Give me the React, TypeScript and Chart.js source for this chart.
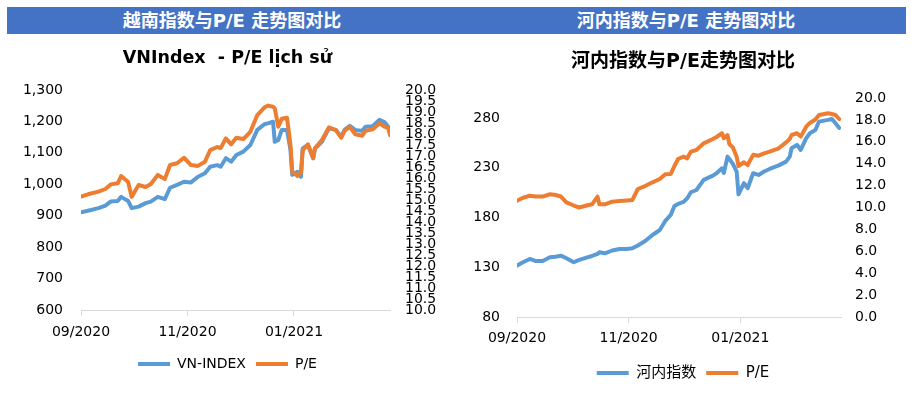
import React, { useEffect, useRef } from "react";
import { Chart, registerables } from "chart.js";

Chart.register(...registerables);

// ---------- shared ----------
const BLUE = "#5B9BD5";
const ORANGE = "#ED7D31";
const HEADER_BG = "#4472C4";
const FONT = "'DejaVu Sans', 'Noto Sans CJK SC', sans-serif";
const CJK_FONT = "'DejaVu Sans', 'Noto Sans CJK SC', sans-serif";

const xTickDays = [0, 61, 122];
const xTickLabels = ["09/2020", "11/2020", "01/2021"];
const xMaxDay = 177;

// ---------- left chart: VN-Index ----------
const vnTitle = "VNIndex  - P/E lịch sử";
const vnHeader = "越南指数与P/E 走势图对比";
const vnDays = [
  0, 4, 10, 14, 17, 21, 23, 27, 29, 33,
  37, 40, 44, 48, 51, 55, 59, 63, 67, 71,
  74, 78, 80, 83, 86, 89, 93, 97, 101, 105,
  107, 110, 111, 113, 115, 118, 120, 121, 124, 126,
  127, 130, 133, 134, 138, 142, 146, 149, 151, 154,
  157, 161, 163, 167, 171, 174, 176, 177,
];
const vnIndex = [
  911, 916, 924, 932, 945, 947, 960, 947, 924, 929,
  940, 945, 960, 953, 989, 998, 1008, 1006, 1024, 1035,
  1056, 1061, 1056, 1083, 1072, 1093, 1104, 1125, 1173, 1191,
  1194, 1199, 1135, 1141, 1173, 1173, 1109, 1030, 1040, 1024,
  1114, 1125, 1083, 1114, 1135, 1178, 1173, 1151, 1173, 1186,
  1173, 1170, 1183, 1185, 1205, 1197, 1183, 1167,
];
const vnPE = [
  15.15, 15.26, 15.38, 15.5, 15.71, 15.76, 16.09, 15.82, 15.14, 15.68,
  15.59, 15.73, 16.14, 15.95, 16.59, 16.67, 16.92, 16.59, 16.55, 16.74,
  17.27, 17.41, 17.36, 17.8, 17.53, 17.83, 17.77, 18.1, 18.86, 19.2,
  19.29, 19.24, 19.17, 18.33, 18.7, 18.74, 17.5, 16.29, 16.09, 16.27,
  17.27, 17.53, 16.9, 17.35, 17.73, 18.3, 18.18, 17.83, 18.14, 18.33,
  17.99, 17.92, 18.14, 18.21, 18.49, 18.33, 18.26, 17.95,
];
const vnLeftTicks = [600, 700, 800, 900, 1000, 1100, 1200, 1300];
const vnRightTicks = [
  10, 10.5, 11, 11.5, 12, 12.5, 13, 13.5, 14, 14.5, 15,
  15.5, 16, 16.5, 17, 17.5, 18, 18.5, 19, 19.5, 20,
];

// ---------- right chart: Hanoi index ----------
const hnTitle = "河内指数与P/E走势图对比";
const hnHeader = "河内指数与P/E 走势图对比";
const hnDays = [
  0, 3, 7, 10, 14, 18, 21, 24, 27, 31,
  34, 38, 41, 44, 45, 48, 52, 56, 60, 63,
  66, 70, 74, 78, 81, 84, 86, 88, 91, 93,
  95, 98, 102, 107, 109, 112, 113, 115, 116, 118,
  120, 121, 124, 126, 129, 132, 135, 138, 143, 147,
  149, 150, 153, 155, 158, 160, 163, 165, 170, 172,
  174, 176,
];
const hnIndex = [
  131.6, 134.8, 138.3, 136.3, 136.3, 140.0, 140.6, 141.6, 139.0, 135.0,
  137.3, 139.6, 141.3, 143.3, 145.0, 144.0, 146.8, 148.3, 148.3, 149.0,
  151.9, 156.4, 162.4, 167.4, 176.5, 182.5, 191.6, 193.6, 195.6, 199.3,
  205.3, 207.6, 217.7, 222.0, 224.4, 229.4, 224.7, 241.1, 238.8, 233.5,
  226.0, 203.3, 214.4, 209.4, 224.4, 222.7, 226.2, 228.7, 232.3, 236.1,
  241.1, 249.5, 252.9, 247.8, 259.6, 264.6, 267.9, 276.3, 278.0, 279.0,
  274.7, 270.0,
];
const hnPE = [
  10.62, 10.87, 11.08, 11.0, 11.0, 11.21, 11.14, 11.0, 10.46, 10.18,
  10.0, 10.18, 10.29, 10.99, 10.29, 10.29, 10.53, 10.59, 10.64, 10.68,
  11.69, 11.96, 12.3, 12.6, 13.03, 13.06, 13.79, 14.43, 14.64, 14.49,
  15.1, 15.25, 15.86, 16.26, 16.44, 16.78, 16.32, 16.62, 15.8, 15.46,
  14.64, 13.79, 14.13, 13.88, 14.81, 14.73, 14.95, 15.11, 15.41, 15.95,
  16.26, 16.62, 16.78, 16.47, 17.38, 17.72, 18.04, 18.45, 18.6, 18.54,
  18.45, 18.08,
];
const hnLeftTicks = [80, 130, 180, 230, 280];
const hnRightTicks = [0, 2, 4, 6, 8, 10, 12, 14, 16, 18, 20];

type Lay = {
  width: number;
  height: number;
  leftAxisW: number;
  rightAxisW: number;
  leftPad: number;
  rightPad: number;
  xAxisH: number;
  xPad: number;
  bottomPad: number;
  titleSize: number;
  titleTop: number;
  titleBottom: number;
  legendSize: number;
};

type Props = {
  days: number[];
  s1: number[];
  s2: number[];
  s1Label: string;
  s2Label: string;
  title: string;
  leftMin: number;
  leftMax: number;
  leftTicks: number[];
  leftFmt: (v: number) => string;
  rightMin: number;
  rightMax: number;
  rightTicks: number[];
  lay: Lay;
};

function DualLine(p: Props) {
  const ref = useRef<HTMLCanvasElement | null>(null);
  useEffect(() => {
    if (!ref.current) return;
    const L = p.lay;
    const tickFont = { family: FONT, size: 14 };
    const chart = new Chart(ref.current, {
      type: "line",
      data: {
        datasets: [
          {
            label: p.s1Label,
            data: p.days.map((d, i) => ({ x: d, y: p.s1[i] })),
            borderColor: BLUE,
            backgroundColor: BLUE,
            borderWidth: 4,
            pointRadius: 0,
            tension: 0,
            borderJoinStyle: "round",
            borderCapStyle: "round",
            yAxisID: "y",
            order: 2,
          },
          {
            label: p.s2Label,
            data: p.days.map((d, i) => ({ x: d, y: p.s2[i] })),
            borderColor: ORANGE,
            backgroundColor: ORANGE,
            borderWidth: 4,
            pointRadius: 0,
            tension: 0,
            borderJoinStyle: "round",
            borderCapStyle: "round",
            yAxisID: "y1",
            order: 1,
          },
        ],
      },
      options: {
        responsive: false,
        animation: false,
        layout: { padding: { left: 0, right: 0, top: 0, bottom: L.bottomPad } },
        plugins: {
          title: {
            display: true,
            text: p.title,
            color: "#000",
            font: { family: CJK_FONT, size: L.titleSize, weight: "bold" },
            padding: { top: L.titleTop, bottom: L.titleBottom },
          },
          legend: {
            position: "bottom",
            labels: {
              usePointStyle: true,
              pointStyle: "line",
              pointStyleWidth: 32,
              color: "#000",
              font: { family: CJK_FONT, size: L.legendSize },
              padding: 10,
              sort: (a: any, b: any) => a.datasetIndex - b.datasetIndex,
            },
          },
          tooltip: { enabled: false },
        },
        scales: {
          x: {
            type: "linear",
            min: 0,
            max: xMaxDay,
            afterBuildTicks: (s: any) => {
              s.ticks = xTickDays.map((v) => ({ value: v }));
            },
            ticks: {
              autoSkip: false,
              maxRotation: 0,
              padding: L.xPad,
              color: "#000",
              font: tickFont,
              callback: (_v: any, i: number) => xTickLabels[i],
            },
            grid: {
              display: true,
              drawOnChartArea: false,
              drawTicks: true,
              tickLength: 6,
              color: "#D9D9D9",
            },
            border: { display: true, color: "#D9D9D9", width: 1 },
            afterFit: (s: any) => {
              s.height = L.xAxisH;
            },
          },
          y: {
            position: "left",
            min: p.leftMin,
            max: p.leftMax,
            afterBuildTicks: (s: any) => {
              s.ticks = p.leftTicks.map((v) => ({ value: v }));
            },
            ticks: {
              autoSkip: false,
              padding: L.leftPad,
              color: "#000",
              font: tickFont,
              callback: (v: any) => p.leftFmt(Number(v)),
            },
            grid: { display: false, drawTicks: false },
            border: { display: false },
            afterFit: (s: any) => {
              s.width = L.leftAxisW;
            },
          },
          y1: {
            position: "right",
            min: p.rightMin,
            max: p.rightMax,
            afterBuildTicks: (s: any) => {
              s.ticks = p.rightTicks.map((v) => ({ value: v }));
            },
            ticks: {
              autoSkip: false,
              padding: L.rightPad,
              color: "#000",
              font: tickFont,
              callback: (v: any) => Number(v).toFixed(1),
            },
            grid: { display: false, drawTicks: false },
            border: { display: false },
            afterFit: (s: any) => {
              s.width = L.rightAxisW;
            },
          },
        },
      } as any,
    });
    return () => chart.destroy();
  }, []);
  return (
    <canvas
      ref={ref}
      width={p.lay.width}
      height={p.lay.height}
      style={{ display: "block", width: p.lay.width, height: p.lay.height }}
    />
  );
}

const leftLay: Lay = {
  width: 455,
  height: 361,
  leftAxisW: 81,
  rightAxisW: 65,
  leftPad: 18,
  rightPad: 15,
  xAxisH: 37,
  xPad: 7.6,
  bottomPad: 16,
  titleSize: 17.5,
  titleTop: 11.5,
  titleBottom: 21.5,
  legendSize: 14,
};

const rightLay: Lay = {
  width: 456,
  height: 361,
  leftAxisW: 62,
  rightAxisW: 70,
  leftPad: 17,
  rightPad: 14,
  xAxisH: 38.5,
  xPad: 6.6,
  bottomPad: 6.5,
  titleSize: 19,
  titleTop: 14.6,
  titleBottom: 24.6,
  legendSize: 15,
};

export default function App() {
  const headerText: React.CSSProperties = {
    position: "absolute",
    top: 0,
    height: 27,
    lineHeight: "27px",
    color: "#fff",
    fontWeight: "bold",
    fontSize: 18,
    fontFamily: CJK_FONT,
    textAlign: "center",
    whiteSpace: "nowrap",
  };
  return (
    <div
      style={{
        position: "absolute",
        left: 0,
        top: 0,
        width: 911,
        height: 397,
        background: "#fff",
        overflow: "hidden",
      }}
    >
      <div
        style={{
          position: "absolute",
          left: 7,
          top: 7,
          width: 899,
          height: 27,
          background: HEADER_BG,
        }}
      >
        <div style={{ ...headerText, left: 0, width: 450 }}>{vnHeader}</div>
        <div style={{ ...headerText, left: 459, width: 440 }}>{hnHeader}</div>
      </div>
      <div style={{ position: "absolute", left: 0, top: 36 }}>
        <DualLine
          days={vnDays}
          s1={vnIndex}
          s2={vnPE}
          s1Label="VN-INDEX"
          s2Label="P/E"
          title={vnTitle}
          leftMin={600}
          leftMax={1300}
          leftTicks={vnLeftTicks}
          leftFmt={(v) => v.toLocaleString("en-US")}
          rightMin={10}
          rightMax={20}
          rightTicks={vnRightTicks}
          lay={leftLay}
        />
      </div>
      <div style={{ position: "absolute", left: 455, top: 36 }}>
        <DualLine
          days={hnDays}
          s1={hnIndex}
          s2={hnPE}
          s1Label="河内指数"
          s2Label="P/E"
          title={hnTitle}
          leftMin={80}
          leftMax={300}
          leftTicks={hnLeftTicks}
          leftFmt={(v) => String(v)}
          rightMin={0}
          rightMax={20}
          rightTicks={hnRightTicks}
          lay={rightLay}
        />
      </div>
    </div>
  );
}
